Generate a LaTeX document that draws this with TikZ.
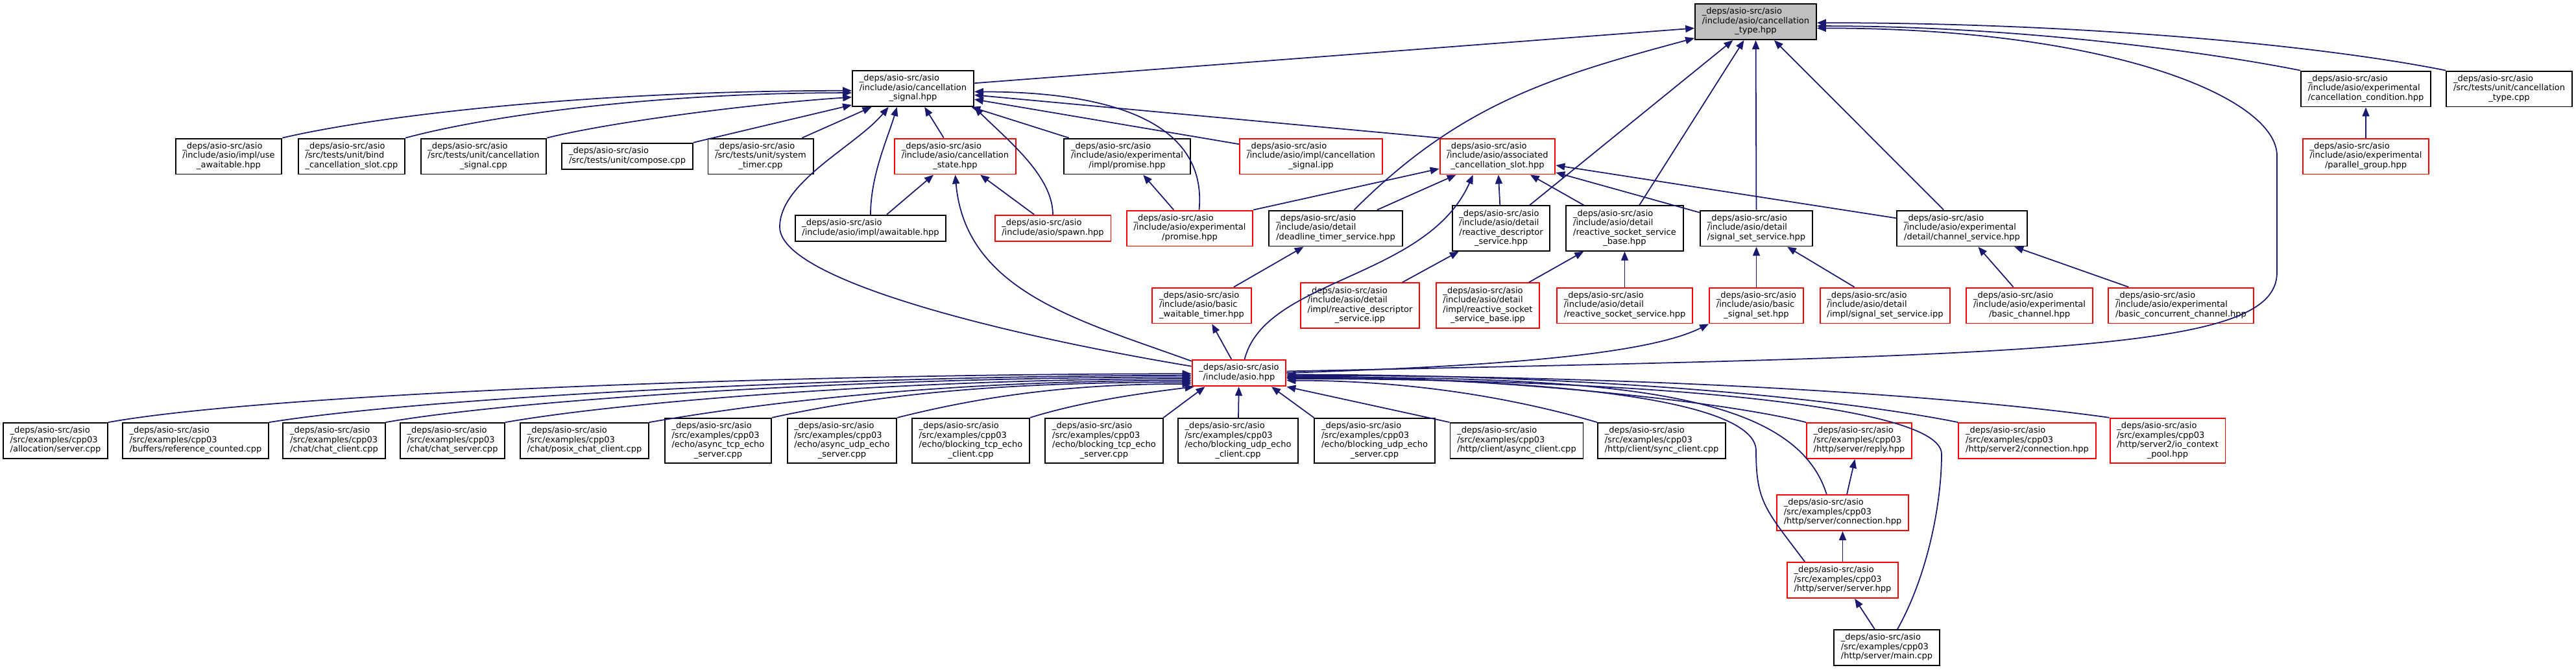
\documentclass[tikz,border=0pt]{standalone}
\usepackage{fontspec}
\setmainfont{DejaVu Sans}
\usetikzlibrary{arrows.meta}
\definecolor{edgeblue}{HTML}{191970}
\newcommand{\incfile}[2]{\begin{tabular}{@{}l@{}}\_deps/asio-src/asio\\#1\multicolumn{1}{@{}c@{}}{#2}\end{tabular}}
\begin{document}
\begin{tikzpicture}[x=1cm,y=1cm,
  every node/.style={font=\fontsize{3.7}{4.11}\selectfont,inner xsep=0.108cm,inner ysep=0.058cm,line width=0.55pt},
  file/.style={draw=black,fill=white},
  part/.style={draw=red,fill=white},
  focus/.style={draw=black,fill=gray!50},
  inc/.style={draw=edgeblue,line width=0.5pt,-{Triangle[length=0.14cm,width=0.11cm]}}]
  \useasboundingbox (0,0) rectangle (39.71,-10.32);
  \node[focus] (root) at (27.065,-0.335) {\incfile{/include/asio/cancellation\\}{\_type.hpp}};
  \node[file] (sig) at (14.075,-1.365) {\incfile{/include/asio/cancellation\\}{\_signal.hpp}};
  \node[file] (cond) at (36.47,-1.37) {\incfile{/include/asio/experimental\\}{/cancellation\_condition.hpp}};
  \node[file] (typecpp) at (38.68,-1.37) {\incfile{/src/tests/unit/cancellation\\}{\_type.cpp}};
  \node[file] (useaw) at (3.525,-2.41) {\incfile{/include/asio/impl/use\\}{\_awaitable.hpp}};
  \node[file] (bindslot) at (5.42,-2.41) {\incfile{/src/tests/unit/bind\\}{\_cancellation\_slot.cpp}};
  \node[file] (sigcpp) at (7.455,-2.41) {\incfile{/src/tests/unit/cancellation\\}{\_signal.cpp}};
  \node[file] (compose) at (9.67,-2.41) {\incfile{}{/src/tests/unit/compose.cpp}};
  \node[file] (systimer) at (11.725,-2.41) {\incfile{/src/tests/unit/system\\}{\_timer.cpp}};
  \node[part] (state) at (14.725,-2.41) {\incfile{/include/asio/cancellation\\}{\_state.hpp}};
  \node[file] (implprom) at (17.375,-2.41) {\incfile{/include/asio/experimental\\}{/impl/promise.hpp}};
  \node[part] (sigipp) at (20.21,-2.41) {\incfile{/include/asio/impl/cancellation\\}{\_signal.ipp}};
  \node[part] (assoc) at (23.085,-2.41) {\incfile{/include/asio/associated\\}{\_cancellation\_slot.hpp}};
  \node[part] (pgroup) at (36.47,-2.41) {\incfile{/include/asio/experimental\\}{/parallel\_group.hpp}};
  \node[file] (awaitable) at (13.42,-3.52) {\incfile{}{/include/asio/impl/awaitable.hpp}};
  \node[part] (spawn) at (16.23,-3.52) {\incfile{}{/include/asio/spawn.hpp}};
  \node[part] (prom) at (18.34,-3.52) {\incfile{/include/asio/experimental\\}{/promise.hpp}};
  \node[file] (deadline) at (20.59,-3.52) {\incfile{/include/asio/detail\\}{/deadline\_timer\_service.hpp}};
  \node[file] (rdesc) at (23.14,-3.52) {\incfile{/include/asio/detail\\/reactive\_descriptor\\}{\_service.hpp}};
  \node[file] (rsockbase) at (25.045,-3.52) {\incfile{/include/asio/detail\\/reactive\_socket\_service\\}{\_base.hpp}};
  \node[file] (sigsvc) at (27.075,-3.52) {\incfile{/include/asio/detail\\}{/signal\_set\_service.hpp}};
  \node[file] (chansvc) at (30.245,-3.52) {\incfile{/include/asio/experimental\\}{/detail/channel\_service.hpp}};
  \node[part] (waittimer) at (18.525,-4.71) {\incfile{/include/asio/basic\\}{\_waitable\_timer.hpp}};
  \node[part] (rdescipp) at (20.965,-4.71) {\incfile{/include/asio/detail\\/impl/reactive\_descriptor\\}{\_service.ipp}};
  \node[part] (rsockipp) at (22.935,-4.71) {\incfile{/include/asio/detail\\/impl/reactive\_socket\\}{\_service\_base.ipp}};
  \node[part] (rsock) at (25.045,-4.71) {\incfile{/include/asio/detail\\}{/reactive\_socket\_service.hpp}};
  \node[part] (sigset) at (27.075,-4.71) {\incfile{/include/asio/basic\\}{\_signal\_set.hpp}};
  \node[part] (sigsvcipp) at (29.06,-4.71) {\incfile{/include/asio/detail\\}{/impl/signal\_set\_service.ipp}};
  \node[part] (chan) at (31.285,-4.71) {\incfile{/include/asio/experimental\\}{/basic\_channel.hpp}};
  \node[part] (cchan) at (33.62,-4.71) {\incfile{/include/asio/experimental\\}{/basic\_concurrent\_channel.hpp}};
  \node[part] (asio) at (19.10,-5.75) {\incfile{}{/include/asio.hpp}};
  \node[file] (alloc) at (0.855,-6.795) {\incfile{/src/examples/cpp03\\}{/allocation/server.cpp}};
  \node[file] (buffers) at (3.015,-6.795) {\incfile{/src/examples/cpp03\\}{/buffers/reference\_counted.cpp}};
  \node[file] (chatcl) at (5.15,-6.795) {\incfile{/src/examples/cpp03\\}{/chat/chat\_client.cpp}};
  \node[file] (chatsv) at (6.975,-6.795) {\incfile{/src/examples/cpp03\\}{/chat/chat\_server.cpp}};
  \node[file] (posix) at (9.01,-6.795) {\incfile{/src/examples/cpp03\\}{/chat/posix\_chat\_client.cpp}};
  \node[file] (atcp) at (11.07,-6.795) {\incfile{/src/examples/cpp03\\/echo/async\_tcp\_echo\\}{\_server.cpp}};
  \node[file] (audp) at (12.98,-6.795) {\incfile{/src/examples/cpp03\\/echo/async\_udp\_echo\\}{\_server.cpp}};
  \node[file] (btcpc) at (14.965,-6.795) {\incfile{/src/examples/cpp03\\/echo/blocking\_tcp\_echo\\}{\_client.cpp}};
  \node[file] (btcps) at (17.02,-6.795) {\incfile{/src/examples/cpp03\\/echo/blocking\_tcp\_echo\\}{\_server.cpp}};
  \node[file] (budpc) at (19.085,-6.795) {\incfile{/src/examples/cpp03\\/echo/blocking\_udp\_echo\\}{\_client.cpp}};
  \node[file] (budps) at (21.19,-6.795) {\incfile{/src/examples/cpp03\\/echo/blocking\_udp\_echo\\}{\_server.cpp}};
  \node[file] (acl) at (23.38,-6.795) {\incfile{/src/examples/cpp03\\}{/http/client/async\_client.cpp}};
  \node[file] (scl) at (25.615,-6.795) {\incfile{/src/examples/cpp03\\}{/http/client/sync\_client.cpp}};
  \node[part] (reply) at (28.66,-6.795) {\incfile{/src/examples/cpp03\\}{/http/server/reply.hpp}};
  \node[part] (s2conn) at (31.25,-6.795) {\incfile{/src/examples/cpp03\\}{/http/server2/connection.hpp}};
  \node[part] (pool) at (33.415,-6.795) {\incfile{/src/examples/cpp03\\/http/server2/io\_context\\}{\_pool.hpp}};
  \node[part] (sconn) at (28.405,-7.905) {\incfile{/src/examples/cpp03\\}{/http/server/connection.hpp}};
  \node[part] (server) at (28.405,-8.945) {\incfile{/src/examples/cpp03\\}{/http/server/server.hpp}};
  \node[file] (main) at (29.085,-9.985) {\incfile{/src/examples/cpp03\\}{/http/server/main.cpp}};
  \draw[inc] (sig.5) -- (root.186);
  \draw[inc] (deadline.45) to[out=45,in=195] (root.195);
  \draw[inc] (rdesc) -- (root);
  \draw[inc] (rsockbase) -- (root);
  \draw[inc] (sigsvc) -- (root);
  \draw[inc] (chansvc) -- (root);
  \draw[inc] (cond.north west) .. controls +(-1.5,0.3) and +(3,0) .. (root.-4);
  \draw[inc] (typecpp.north west) .. controls +(-2,0.4) and +(4,0) .. (root.-1);
  \draw[inc] (asio.2) .. controls +(12,0.25) and +(0,-1.2) .. (35.1,-4.2) -- (35.1,-2.4) .. controls +(0,0.9) and +(4.5,0) .. (root.-6);
  \draw[inc] (useaw.north east) .. controls +(1.5,0.35) and +(-4,0) .. (sig.182);
  \draw[inc] (bindslot.north east) .. controls +(1.3,0.35) and +(-3,0) .. (sig.184);
  \draw[inc] (sigcpp.north east) .. controls +(1.0,0.25) and +(-1.5,-0.1) .. (sig.188);
  \draw[inc] (compose.north east) -- (sig.195);
  \draw[inc] (systimer) -- (sig);
  \draw[inc] (state) -- (sig);
  \draw[inc] (implprom) -- (sig);
  \draw[inc] (sigipp) -- (sig.-10);
  \draw[inc] (assoc.north west) -- (sig.-6);
  \draw[inc] (spawn.north) .. controls +(0,0.6) and +(0.5,-0.5) .. (sig.south east);
  \draw[inc] (prom.63) .. controls +(0.15,1.6) and +(1.5,0) .. (sig.-3);
  \draw[inc] (awaitable.north) .. controls +(0,0.6) and +(-0.15,-0.5) .. (sig.229);
  \draw[inc] (asio.172) .. controls +(-3,0.5) and +(0,-0.8) .. (12.02,-3.5) .. controls +(0,0.7) and +(-0.5,-0.6) .. (sig.217);
  \draw[inc] (awaitable) -- (state);
  \draw[inc] (spawn) -- (state);
  \draw[inc] (asio.166) to[out=160,in=-85] (state.south);
  \draw[inc] (prom) -- (implprom);
  \draw[inc] (prom.north east) -- (assoc.192);
  \draw[inc] (deadline) -- (assoc);
  \draw[inc] (asio.68) .. controls +(0.32,1.25) and +(-0.71,-1.61) .. (assoc.217);
  \draw[inc] (rdesc) -- (assoc);
  \draw[inc] (rsockbase) -- (assoc);
  \draw[inc] (sigsvc) -- (assoc);
  \draw[inc] (chansvc) -- (assoc);
  \draw[inc] (pgroup) -- (cond);
  \draw[inc] (waittimer) -- (deadline);
  \draw[inc] (rdescipp) -- (rdesc);
  \draw[inc] (rsockipp) -- (rsockbase);
  \draw[inc] (rsock) -- (rsockbase);
  \draw[inc] (sigset) -- (sigsvc);
  \draw[inc] (sigsvcipp) -- (sigsvc);
  \draw[inc] (chan) -- (chansvc);
  \draw[inc] (cchan) -- (chansvc);
  \draw[inc] (asio) -- (waittimer);
  \draw[inc] (asio.0) .. controls +(3,0.1) and +(-1,-0.5) .. (sigset.south west);
  \draw[inc] (alloc.north east) .. controls +(2.5,0.45) and +(-6,0) .. (asio.181);
  \draw[inc] (buffers.north east) .. controls +(2.5,0.4) and +(-5,0) .. (asio.183);
  \draw[inc] (chatcl.north east) .. controls +(2,0.35) and +(-5,0) .. (asio.185);
  \draw[inc] (chatsv.north east) .. controls +(2,0.35) and +(-4,0) .. (asio.187);
  \draw[inc] (posix.north east) .. controls +(2,0.35) and +(-3.5,0) .. (asio.189);
  \draw[inc] (atcp.north east) .. controls +(1.6,0.35) and +(-3,0) .. (asio.191);
  \draw[inc] (audp.north east) .. controls +(1.2,0.3) and +(-2,0) .. (asio.193);
  \draw[inc] (btcpc.north east) .. controls +(0.8,0.25) and +(-0.8,-0.1) .. (asio.197);
  \draw[inc] (btcps.north east) -- (asio.202);
  \draw[inc] (budpc) -- (asio);
  \draw[inc] (budps.north west) -- (asio.-23);
  \draw[inc] (acl.north west) -- (asio.south east);
  \draw[inc] (scl.north west) .. controls +(-1.2,0.35) and +(2,0) .. (asio.-9);
  \draw[inc] (reply.north west) .. controls +(-1.4,0.35) and +(3,0) .. (asio.-4);
  \draw[inc] (s2conn.north west) .. controls +(-2,0.4) and +(4.5,0) .. (asio.-2);
  \draw[inc] (pool.north west) .. controls +(-2.5,0.35) and +(5.5,0) .. (asio.-3);
  \draw[inc] (sconn.131) .. controls +(-0.5,1.6) and +(5,0) .. (asio.-5);
  \draw[inc] (server.154) .. controls +(-0.6,0.8) and +(0,-0.8) .. (27.07,-6.95) .. controls +(0,0.8) and +(4,0) .. (asio.-6);
  \draw[inc] (main.60) .. controls +(0.45,0.8) and +(0,-0.8) .. (29.93,-7.0) .. controls +(0,0.8) and +(5,0) .. (asio.-7);
  \draw[inc] (sconn) -- (reply);
  \draw[inc] (server) -- (sconn);
  \draw[inc] (main) -- (server);
\end{tikzpicture}
\end{document}
